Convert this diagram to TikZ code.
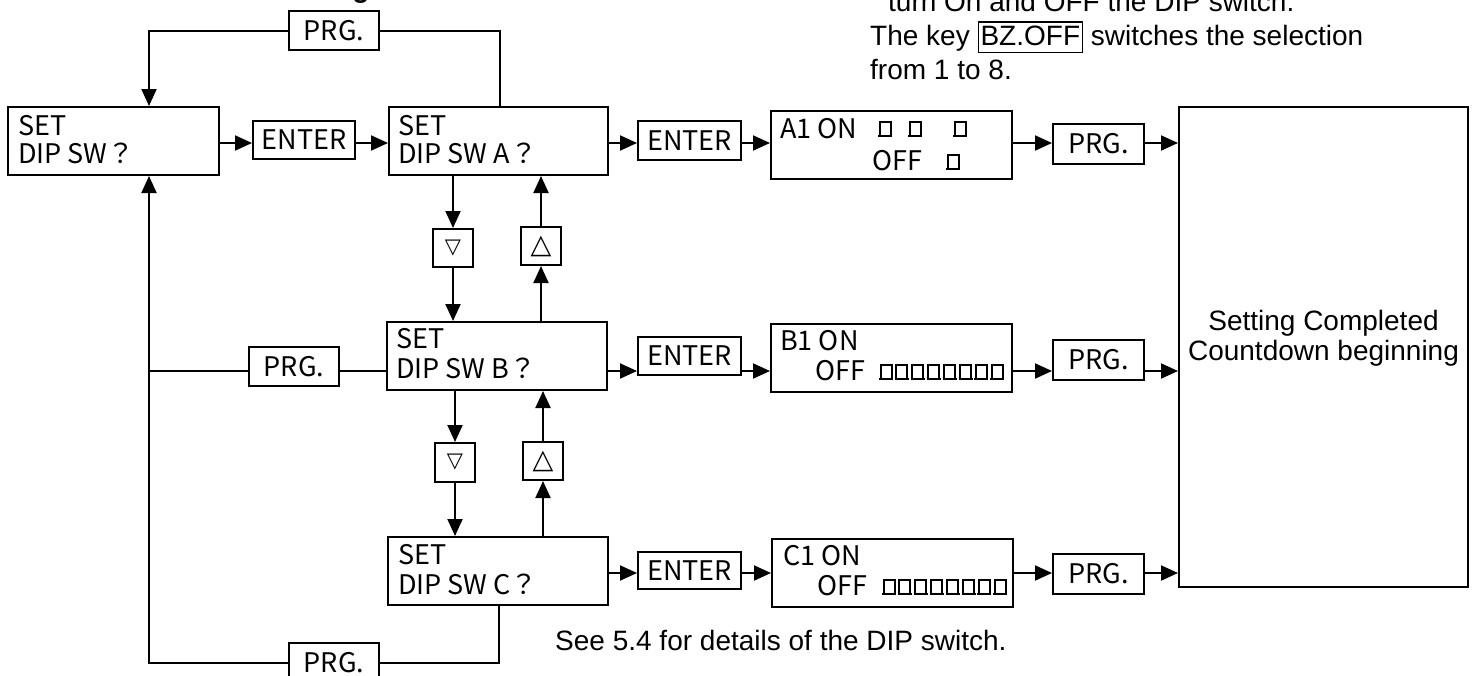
\documentclass[tikz,border=0pt]{standalone}
\usepackage{fontspec}
\setmainfont{Liberation Sans}
\newfontfamily\jpfont{Noto Sans CJK JP}
\newfontfamily\symfont{DejaVu Sans}
\usetikzlibrary{arrows.meta,calc}
\begin{document}
\begin{tikzpicture}[x=1pt,y=-1pt,
  box/.style={draw, line width=2pt, inner sep=0pt, anchor=center, font=\jpfont\fontsize{27}{32}\selectfont},
  lcd/.style={font=\jpfont\fontsize{27}{32}\selectfont, anchor=base west, inner sep=0pt},
  sans/.style={font=\fontsize{28}{34}\selectfont, inner sep=0pt},
  arr/.style={line width=2pt, -{Triangle[length=17pt,width=15pt]}},
  ln/.style={line width=2pt},
  dipsw/.pic={\draw[line width=2pt] (-5.5,0) -- (-5.5,-14) -- (5.5,-14) -- (5.5,0);
              \draw[line width=2.6pt] (-7,0) -- (7,0);}
]
\useasboundingbox (0,0) rectangle (1474,675);

% --- boxes
\node[box, minimum width=211pt, minimum height=68pt] (box1) at (113.5,141) {};
\node[box, minimum width=102pt, minimum height=38pt] (ent1) at (304,140) {ENTER};
\node[box, minimum width=219pt, minimum height=68pt] (boxA) at (498.5,141) {};
\node[box, minimum width=103pt, minimum height=39pt] (ent2) at (689.5,140.5) {ENTER};
\node[box, minimum width=241pt, minimum height=68pt] (a1) at (891.5,145) {};
\node[box, minimum width=91pt, minimum height=40pt] (prgA) at (1098.5,144) {PRG.};
\node[box, minimum width=289pt, minimum height=480pt] (big) at (1323.5,347) {};
\node[box, minimum width=90pt, minimum height=39pt] (prgTop) at (334,30.5) {PRG.};

\node[box, minimum width=40pt, minimum height=38pt, font=\symfont\fontsize{21}{26}\selectfont] (dn1) at (453,248) {▽};
\node[box, minimum width=40pt, minimum height=38pt, font=\symfont\fontsize{27}{30}\selectfont] (up1) at (541,246) {△};
\node[box, minimum width=220pt, minimum height=68pt] (boxB) at (497,356) {};
\node[box, minimum width=90pt, minimum height=39pt] (prgMid) at (294,366.5) {PRG.};
\node[box, minimum width=103pt, minimum height=38pt] (entB) at (689.5,356) {ENTER};
\node[box, minimum width=241pt, minimum height=68pt] (b1) at (891.5,358) {};
\node[box, minimum width=91pt, minimum height=40pt] (prgB) at (1098.5,360) {PRG.};

\node[box, minimum width=40pt, minimum height=39pt, font=\symfont\fontsize{21}{26}\selectfont] (dn2) at (455,462.5) {▽};
\node[box, minimum width=40pt, minimum height=38pt, font=\symfont\fontsize{27}{30}\selectfont] (up2) at (543,461) {△};
\node[box, minimum width=220pt, minimum height=68pt] (boxC) at (498,571) {};
\node[box, minimum width=103pt, minimum height=37pt] (entC) at (689.5,570.5) {ENTER};
\node[box, minimum width=241pt, minimum height=68pt] (c1) at (892.5,573) {};
\node[box, minimum width=91pt, minimum height=40pt] (prgC) at (1098.5,574) {PRG.};
\node[box, minimum width=90pt, minimum height=40pt] (prgBot) at (334,663) {PRG.};

% --- box texts
\node[lcd] (t1a) at (18,135) {SET};
\node[lcd] (t1b) at (18,163) {DIP SW？};
\node[lcd] (tAa) at (398,135) {SET};
\node[lcd] (tAb) at (398,163) {DIP SW A？};
\node[lcd] (tBa) at (396,348) {SET};
\node[lcd] (tBb) at (396,378) {DIP SW B？};
\node[lcd] (tCa) at (398,564) {SET};
\node[lcd] (tCb) at (398,594) {DIP SW C？};

\node[lcd] (a1on) at (780,138) {A1 ON};
\node[lcd] (a1off) at (872,170) {OFF};
\pic at (885,136) {dipsw};
\pic at (915,136) {dipsw};
\pic at (960,136) {dipsw};
\pic at (953,169) {dipsw};

\node[lcd] (b1on) at (780,350) {B1 ON};
\node[lcd] (b1off) at (815,380) {OFF};
\foreach \i in {0,...,7} {\pic at ({886+15.9*\i},379) {dipsw};}

\node[lcd] (c1on) at (783,565) {C1 ON};
\node[lcd] (c1off) at (817,595) {OFF};
\foreach \i in {0,...,7} {\pic at ({889+15.9*\i},594) {dipsw};}

% --- free texts
\node[font=\bfseries\fontsize{28}{34}\selectfont, anchor=base, inner sep=0pt] (titleg) at (361,-3) {g};
\node[sans, anchor=base west] (note1) at (888,11) {turn On and OFF the DIP switch.};
\node[sans, anchor=base west] (note2) at (870,45) {The key {\setlength{\fboxrule}{1.5pt}\setlength{\fboxsep}{1.5pt}\fbox{\rule[-5pt]{0pt}{26pt}BZ.OFF}} switches the selection};
\node[sans, anchor=base west] (note3) at (870,79) {from 1 to 8.};
\node[sans, anchor=base west] (see) at (555,650) {See 5.4 for details of the DIP switch.};
\node[sans, anchor=base] (done1) at (1323.5,330) {Setting Completed};
\node[sans, anchor=base] (done2) at (1323.5,360) {Countdown beginning};

% --- connectors
\coordinate (yA) at (0,143);
\coordinate (yB) at (0,371);
\coordinate (yC) at (0,573);
\coordinate (xA) at (500,0);
\coordinate (xC) at (499,0);
\coordinate (xL) at (149,0);

\draw[arr] (box1.east |- yA) -- (ent1.west |- yA);
\draw[arr] (ent1.east |- yA) -- (boxA.west |- yA);
\draw[arr] (boxA.east |- yA) -- (ent2.west |- yA);
\draw[arr] (ent2.east |- yA) -- (a1.west |- yA);
\draw[arr] (a1.east |- yA) -- (prgA.west |- yA);
\draw[arr] (prgA.east |- yA) -- (big.west |- yA);

\draw[arr] (boxB.east |- yB) -- (entB.west |- yB);
\draw[arr] (entB.east |- yB) -- (b1.west |- yB);
\draw[arr] (b1.east |- yB) -- (prgB.west |- yB);
\draw[arr] (prgB.east |- yB) -- (big.west |- yB);

\draw[arr] (boxC.east |- yC) -- (entC.west |- yC);
\draw[arr] (entC.east |- yC) -- (c1.west |- yC);
\draw[arr] (c1.east |- yC) -- (prgC.west |- yC);
\draw[arr] (prgC.east |- yC) -- (big.west |- yC);

\draw[ln] (boxA.north -| xA) -- (xA |- prgTop) -- (prgTop.east);
\draw[arr] (prgTop.west) -- (xL |- prgTop) -- (box1.north -| xL);

\draw[arr] (boxA.south -| dn1) -- (dn1.north);
\draw[arr] (dn1.south) -- (boxB.north -| dn1);
\draw[arr] (boxB.north -| up1) -- (up1.south);
\draw[arr] (up1.north) -- (boxA.south -| up1);

\draw[arr] (boxB.south -| dn2) -- (dn2.north);
\draw[arr] (dn2.south) -- (boxC.north -| dn2);
\draw[arr] (boxC.north -| up2) -- (up2.south);
\draw[arr] (up2.north) -- (boxB.south -| up2);

\draw[ln] (boxB.west |- yB) -- (prgMid.east |- yB);
\draw[ln] (prgMid.west |- yB) -- (xL |- yB);

\draw[ln] (boxC.south -| xC) -- (xC |- prgBot) -- (prgBot.east);
\draw[arr] (prgBot.west) -- (xL |- prgBot) -- (box1.south -| xL);
\end{tikzpicture}
\end{document}
